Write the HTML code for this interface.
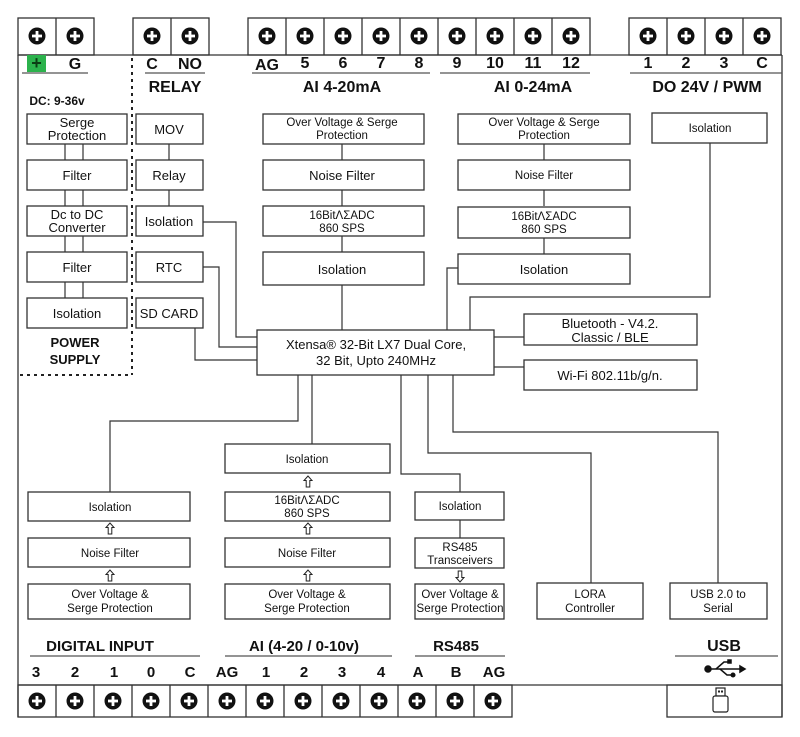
<!DOCTYPE html>
<html><head><meta charset="utf-8"><style>
html,body{margin:0;padding:0;background:#fff}
svg{display:block}
text{font-family:"Liberation Sans",Arial,sans-serif;fill:#111;text-anchor:middle}
.b{font-weight:bold}
</style></head><body>
<svg width="800" height="737" viewBox="0 0 800 737" xmlns="http://www.w3.org/2000/svg">
<defs>
<g id="sc"><circle r="8.5" fill="#111"/><rect x="-5" y="-1.4" width="10" height="2.8" fill="#fff"/><rect x="-1.4" y="-5" width="2.8" height="10" fill="#fff"/></g>
<g id="ua"><path d="M0,-6 L-4,-1.5 L-1.8,-1.5 L-1.8,5 L1.8,5 L1.8,-1.5 L4,-1.5 Z" fill="#fff" stroke="#222" stroke-width="1"/></g>
</defs>
<g fill="none" stroke="#333" stroke-width="1.3">
<line x1="18" y1="55" x2="18" y2="717"/>
<line x1="782" y1="55" x2="782" y2="717"/>
<line x1="18" y1="55" x2="782" y2="55"/>
<line x1="18" y1="685" x2="782" y2="685"/>
<rect x="18" y="18" width="76" height="37"/><line x1="56" y1="18" x2="56" y2="55"/>
<rect x="133" y="18" width="76" height="37"/><line x1="171" y1="18" x2="171" y2="55"/>
<rect x="248" y="18" width="342" height="37"/>
<path d="M286 18V55M324 18V55M362 18V55M400 18V55M438 18V55M476 18V55M514 18V55M552 18V55"/>
<rect x="629" y="18" width="152" height="37"/>
<path d="M667 18V55M705 18V55M743 18V55"/>
<rect x="18" y="685" width="494" height="32"/>
<path d="M56 685V717M94 685V717M132 685V717M170 685V717M208 685V717M246 685V717M284 685V717M322 685V717M360 685V717M398 685V717M436 685V717M474 685V717"/>
<rect x="667" y="685" width="115" height="32"/>
<path d="M22 73H88M145 73H205M252 73H430M440 73H590M630 73H782M30 656H200M225 656H392M415 656H505M675 656H778" stroke="#555"/>
</g>
<path d="M132 58V375M20 375H132" stroke="#222" stroke-width="2" stroke-dasharray="3,4" fill="none"/>
<g>
<use href="#sc" x="37" y="36"/><use href="#sc" x="75" y="36"/>
<use href="#sc" x="152" y="36"/><use href="#sc" x="190" y="36"/>
<use href="#sc" x="267" y="36"/><use href="#sc" x="305" y="36"/><use href="#sc" x="343" y="36"/><use href="#sc" x="381" y="36"/><use href="#sc" x="419" y="36"/><use href="#sc" x="457" y="36"/><use href="#sc" x="495" y="36"/><use href="#sc" x="533" y="36"/><use href="#sc" x="571" y="36"/>
<use href="#sc" x="648" y="36"/><use href="#sc" x="686" y="36"/><use href="#sc" x="724" y="36"/><use href="#sc" x="762" y="36"/>
<use href="#sc" x="37" y="701"/><use href="#sc" x="75" y="701"/><use href="#sc" x="113" y="701"/><use href="#sc" x="151" y="701"/><use href="#sc" x="189" y="701"/><use href="#sc" x="227" y="701"/><use href="#sc" x="265" y="701"/><use href="#sc" x="303" y="701"/><use href="#sc" x="341" y="701"/><use href="#sc" x="379" y="701"/><use href="#sc" x="417" y="701"/><use href="#sc" x="455" y="701"/><use href="#sc" x="493" y="701"/>
</g>
<rect x="27" y="55" width="19" height="17" fill="#2bb24c"/>
<text x="36.5" y="69" class="b" font-size="18" style="fill:#0b3d14">+</text>
<g font-size="16">
<text x="75" y="69" class="b">G</text>
<text x="152" y="69" class="b">C</text><text x="190" y="69" class="b">NO</text>
<text x="267" y="70" class="b">AG</text><text x="305" y="68" class="b">5</text><text x="343" y="68" class="b">6</text><text x="381" y="68" class="b">7</text><text x="419" y="68" class="b">8</text>
<text x="457" y="68" class="b">9</text><text x="495" y="68" class="b">10</text><text x="533" y="68" class="b">11</text><text x="571" y="68" class="b">12</text>
<text x="648" y="68" class="b">1</text><text x="686" y="68" class="b">2</text><text x="724" y="68" class="b">3</text><text x="762" y="68" class="b">C</text>
<text x="175" y="92" class="b">RELAY</text>
<text x="342" y="92" class="b">AI 4-20mA</text>
<text x="533" y="92" class="b">AI 0-24mA</text>
<text x="707" y="92" class="b">DO 24V / PWM</text>
</g>
<text x="57" y="105" class="b" font-size="12">DC: 9-36v</text>
<g font-size="15">
<text x="100" y="651" class="b">DIGITAL INPUT</text>
<text x="304" y="651" class="b">AI (4-20 / 0-10v)</text>
<text x="456" y="651" class="b">RS485</text>
<text x="724" y="651" class="b" font-size="16">USB</text>
<text x="36" y="677" class="b">3</text><text x="75" y="677" class="b">2</text><text x="114" y="677" class="b">1</text><text x="151" y="677" class="b">0</text><text x="190" y="677" class="b">C</text><text x="227" y="677" class="b">AG</text><text x="266" y="677" class="b">1</text><text x="304" y="677" class="b">2</text><text x="342" y="677" class="b">3</text><text x="381" y="677" class="b">4</text><text x="418" y="677" class="b">A</text><text x="456" y="677" class="b">B</text><text x="494" y="677" class="b">AG</text>
</g>
<g stroke="#111" stroke-width="1.5" fill="#111">
<circle cx="708" cy="669" r="3"/><line x1="708" y1="669" x2="740" y2="669"/>
<path d="M740 666 L745 669 L740 672Z"/>
<path d="M716 669 L724 662 L728 662" fill="none"/><rect x="728" y="660" width="3" height="3"/>
<path d="M720 669 L727 675 L731 675" fill="none"/><circle cx="733" cy="675" r="1.8"/>
</g>
<g stroke="#222" stroke-width="1.2" fill="#fff">
<rect x="716" y="688" width="9" height="8"/><rect x="713" y="696" width="15" height="16" rx="2"/>
</g>
<rect x="718" y="690.5" width="2" height="2" fill="#222"/><rect x="721" y="690.5" width="2" height="2" fill="#222"/>
<g fill="none" stroke="#333" stroke-width="1.2">
<path d="M65 144V160M83 144V160M65 190V206M83 190V206M65 236V252M83 236V252M65 282V298M83 282V298"/>
<path d="M169 144V160M169 190V206"/>
<path d="M203 222H236V337H257"/>
<path d="M203 267H219V347H257"/>
<path d="M195 328V360H257"/>
<path d="M342 144V160M342 190V206M342 236V252M342 285V330"/>
<path d="M544 144V160M544 190V206M544 238V254"/>
<path d="M458 268H447V330"/>
<path d="M710 143V297H470V330"/>
<path d="M494 337H524M494 367H524"/>
<path d="M298 375V421H110V492"/>
<path d="M312 375V444"/>
<path d="M401 375V474H460V492"/>
<path d="M428 375V453H591V583"/>
<path d="M453 375V432H718V583"/>
<path d="M460 520V538"/>
</g>
<g fill="#fff" stroke="#333" stroke-width="1.3">
<rect x="27" y="114" width="100" height="30"/><rect x="27" y="160" width="100" height="30"/><rect x="27" y="206" width="100" height="30"/><rect x="27" y="252" width="100" height="30"/><rect x="27" y="298" width="100" height="30"/>
<rect x="136" y="114" width="67" height="30"/><rect x="136" y="160" width="67" height="30"/><rect x="136" y="206" width="67" height="30"/><rect x="136" y="252" width="67" height="30"/><rect x="136" y="298" width="67" height="30"/>
<rect x="263" y="114" width="161" height="30"/><rect x="263" y="160" width="161" height="30"/><rect x="263" y="206" width="161" height="30"/><rect x="263" y="252" width="161" height="33"/>
<rect x="458" y="114" width="172" height="30"/><rect x="458" y="160" width="172" height="30"/><rect x="458" y="207" width="172" height="31"/><rect x="458" y="254" width="172" height="30"/>
<rect x="652" y="113" width="115" height="30"/>
<rect x="257" y="330" width="237" height="45"/>
<rect x="524" y="314" width="173" height="31"/><rect x="524" y="360" width="173" height="30"/>
<rect x="28" y="492" width="162" height="29"/><rect x="28" y="538" width="162" height="29"/><rect x="28" y="584" width="162" height="35"/>
<rect x="225" y="444" width="165" height="29"/><rect x="225" y="492" width="165" height="29"/><rect x="225" y="538" width="165" height="29"/><rect x="225" y="584" width="165" height="35"/>
<rect x="415" y="492" width="89" height="28"/><rect x="415" y="538" width="89" height="30"/><rect x="415" y="584" width="89" height="35"/>
<rect x="537" y="583" width="106" height="36"/><rect x="670" y="583" width="97" height="36"/>
</g>
<use href="#ua" x="110" y="529"/><use href="#ua" x="110" y="576"/>
<use href="#ua" x="308" y="482"/><use href="#ua" x="308" y="529"/><use href="#ua" x="308" y="576"/>
<use href="#ua" x="460" y="576" transform="rotate(180 460 576)"/>
<g font-size="13">
<text x="77" y="127">Serge</text><text x="77" y="140">Protection</text>
<text x="77" y="180">Filter</text>
<text x="77" y="219">Dc to DC</text><text x="77" y="232">Converter</text>
<text x="77" y="272">Filter</text>
<text x="77" y="318">Isolation</text>
<text x="169" y="134">MOV</text><text x="169" y="180">Relay</text><text x="169" y="226">Isolation</text><text x="169" y="272">RTC</text><text x="169" y="318">SD CARD</text>
<text x="342" y="180">Noise Filter</text>
<text x="342" y="274">Isolation</text>
<text x="544" y="274">Isolation</text>
<text x="376" y="349">Xtensa® 32-Bit LX7 Dual Core,</text>
<text x="376" y="365">32 Bit, Upto 240MHz</text>
<text x="610" y="328">Bluetooth - V4.2.</text><text x="610" y="342">Classic / BLE</text>
<text x="610" y="380">Wi-Fi 802.11b/g/n.</text>
</g>
<g font-size="11.5">
<text x="342" y="126">Over Voltage &amp; Serge</text><text x="342" y="139">Protection</text>
<text x="342" y="219">16BitΛΣADC</text><text x="342" y="232">860 SPS</text>
<text x="544" y="126">Over Voltage &amp; Serge</text><text x="544" y="139">Protection</text>
<text x="544" y="179">Noise Filter</text>
<text x="544" y="220">16BitΛΣADC</text><text x="544" y="233">860 SPS</text>
<text x="710" y="132">Isolation</text>
<text x="110" y="511">Isolation</text><text x="110" y="557">Noise Filter</text>
<text x="110" y="598">Over Voltage &amp;</text><text x="110" y="612">Serge Protection</text>
<text x="307" y="463">Isolation</text>
<text x="307" y="504">16BitΛΣADC</text><text x="307" y="517">860 SPS</text>
<text x="307" y="557">Noise Filter</text>
<text x="307" y="598">Over Voltage &amp;</text><text x="307" y="612">Serge Protection</text>
<text x="460" y="510">Isolation</text>
<text x="460" y="551">RS485</text><text x="460" y="564">Transceivers</text>
<text x="460" y="598">Over Voltage &amp;</text><text x="460" y="612" textLength="87">Serge Protection</text>
<text x="590" y="598">LORA</text><text x="590" y="612">Controller</text>
<text x="718" y="598">USB 2.0 to</text><text x="718" y="612">Serial</text>
</g>
<g font-size="13"><text x="75" y="347" class="b">POWER</text><text x="75" y="364" class="b">SUPPLY</text></g>
</svg>
</body></html>
